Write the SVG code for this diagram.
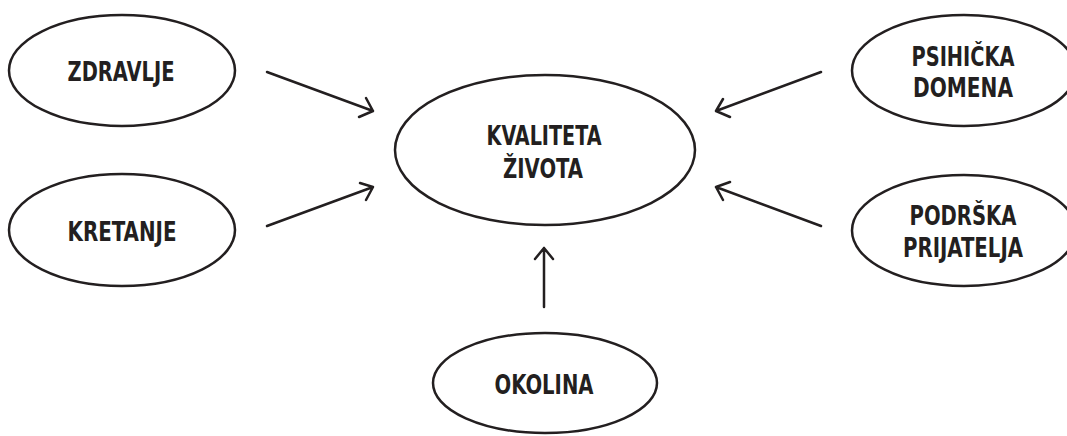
<svg xmlns="http://www.w3.org/2000/svg" width="1067" height="436" viewBox="0 0 1067 436">
<style>
.n{fill:#fff;stroke:#231f20;stroke-width:2.5}
.t{font-family:"Liberation Sans Narrow","DejaVu Sans Condensed","Liberation Sans",sans-serif;font-weight:bold;font-size:27px;fill:#231f20;text-anchor:middle}
.c{fill:none;stroke:#231f20;stroke-width:2.5;stroke-linecap:round;stroke-linejoin:round}
</style>
<rect width="1067" height="436" fill="#fff"/>
<g id="zdravlje"><ellipse class="n" cx="122" cy="70.5" rx="113" ry="55.5"/><text class="t" x="121" y="81" textLength="107" lengthAdjust="spacingAndGlyphs">ZDRAVLJE</text></g>
<g id="kretanje"><ellipse class="n" cx="122" cy="230" rx="113" ry="56"/><text class="t" x="122" y="241" textLength="109" lengthAdjust="spacingAndGlyphs">KRETANJE</text></g>
<g id="kvaliteta"><ellipse class="n" cx="545" cy="150" rx="150" ry="75"/><text class="t" x="544" y="145" textLength="115" lengthAdjust="spacingAndGlyphs">KVALITETA</text><text class="t" x="543" y="178" textLength="80" lengthAdjust="spacingAndGlyphs">ŽIVOTA</text></g>
<g id="okolina"><ellipse class="n" cx="545" cy="383" rx="112" ry="50"/><text class="t" x="544" y="394" textLength="99" lengthAdjust="spacingAndGlyphs">OKOLINA</text></g>
<g id="psihicka"><ellipse class="n" cx="964" cy="70.5" rx="112" ry="55.5"/><text class="t" x="963" y="66" textLength="103" lengthAdjust="spacingAndGlyphs">PSIHIČKA</text><text class="t" x="963" y="97" textLength="100" lengthAdjust="spacingAndGlyphs">DOMENA</text></g>
<g id="podrska"><ellipse class="n" cx="964" cy="230.5" rx="112" ry="55.5"/><text class="t" x="963" y="225" textLength="107" lengthAdjust="spacingAndGlyphs">PODRŠKA</text><text class="t" x="963" y="257" textLength="120" lengthAdjust="spacingAndGlyphs">PRIJATELJA</text></g>
<g id="connectors">
<path class="c" d="M267 72 L373 111 M366 98 L373 111 L359 117"/>
<path class="c" d="M267 226 L373 187 M360 183 L373 187 L366 200"/>
<path class="c" d="M821 72 L716 111 M723 99 L716 111 L730 117"/>
<path class="c" d="M821 226 L716 187 M730 182 L716 187 L723 200"/>
<path class="c" d="M544 307 L544 248 M535 259 L544 248 L553 259"/>
</g>
</svg>
